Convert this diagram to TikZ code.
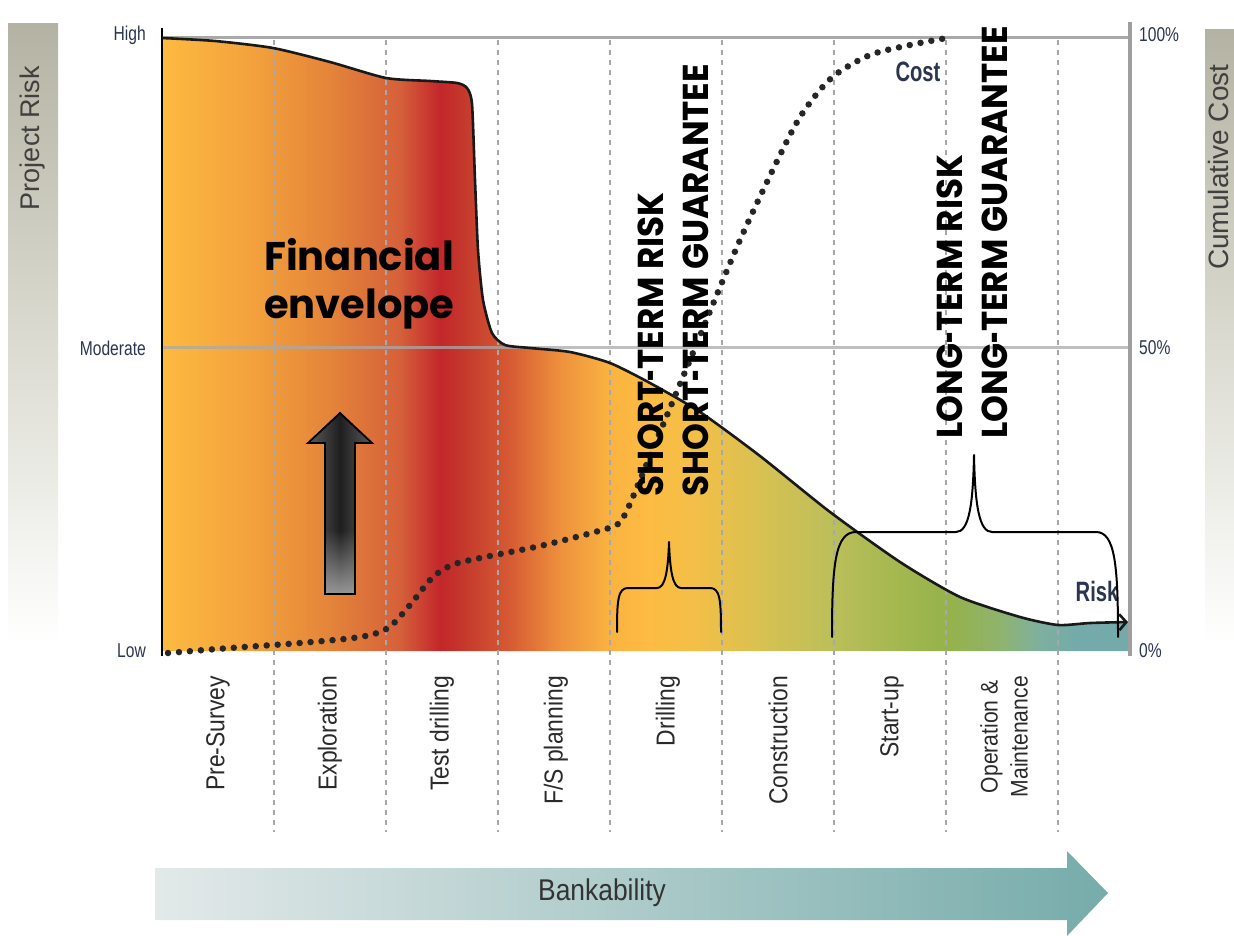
\documentclass[tikz,border=0pt]{standalone}
\usepackage{fontspec}
\usepackage{graphicx}
\setmainfont{Liberation Sans}
\newfontfamily\cnd{Liberation Sans}[FakeStretch=0.88]
\newfontfamily\cndn{Liberation Sans}[FakeStretch=0.78]
\newfontfamily\cndb{Liberation Sans}[FakeStretch=0.72]
\newfontfamily\geo{Poppins}[FakeStretch=0.95]
\newfontfamily\geofin{Poppins}
\newcommand\shyph{\scalebox{0.6}[1]{-}}
\usetikzlibrary{arrows.meta,fadings}
\definecolor{barTop}{HTML}{B4B3A3}
\definecolor{barMid}{HTML}{DADAD0}
\definecolor{gridgray}{HTML}{A9A9A9}
\definecolor{axisgray}{HTML}{9E9E9E}
\definecolor{dashgray}{HTML}{A8A8A8}
\definecolor{navy}{HTML}{2B3550}
\definecolor{txt}{HTML}{2A2A2A}
\definecolor{c0}{HTML}{FDBA40}
\definecolor{c1}{HTML}{F3A23D}
\definecolor{c2}{HTML}{E4843A}
\definecolor{c3}{HTML}{D5603A}
\definecolor{c4}{HTML}{C3262B}
\definecolor{c5}{HTML}{C53A2D}
\definecolor{c6}{HTML}{D65B33}
\definecolor{c7}{HTML}{EE913D}
\definecolor{c8}{HTML}{FAB341}
\definecolor{c9}{HTML}{FDBC43}
\definecolor{c10}{HTML}{F1BF48}
\definecolor{c11}{HTML}{D8C152}
\definecolor{c12}{HTML}{BCBF5A}
\definecolor{c13}{HTML}{A3B74F}
\definecolor{c14}{HTML}{95B24B}
\definecolor{c15}{HTML}{8FB36F}
\definecolor{c16}{HTML}{7EB0A0}
\definecolor{c17}{HTML}{74AAAA}
\definecolor{bankL}{HTML}{E3E9E9}
\definecolor{bankR}{HTML}{76ACAA}
\begin{document}
\begin{tikzpicture}[x=1pt,y=-1pt,
  gridv/.style={dashgray,line width=2pt,dash pattern=on 5pt off 5pt},
  gridh/.style={gridgray,line width=3pt},
  phase/.style={rotate=90,anchor=east,inner sep=0pt,text=txt,font=\cnd\fontsize{26}{28}\selectfont},
  ticklab/.style={inner sep=0pt,text=navy,font=\cndn\fontsize{20}{22}\selectfont},
  curvelab/.style={inner sep=0pt,text=navy,font=\cndb\bfseries\fontsize{28}{30}\selectfont},
  biglab/.style={rotate=90,anchor=base west,inner sep=0pt,text=black,font=\geo\bfseries\fontsize{36}{40}\selectfont},
  finlab/.style={anchor=base west,inner sep=0pt,text=black,font=\geofin\bfseries\fontsize{40}{44}\selectfont},
  sidelab/.style={rotate=90,inner sep=0pt,text=black!75,font=\fontsize{27}{30}\selectfont},
  bracestyle/.style={black,line width=2pt,line cap=round,line join=round},
  costdots/.style={black!85,line width=6.5pt,dash pattern=on 0pt off 11pt,line cap=round}
]
\useasboundingbox (0,0) rectangle (1234,936);

% side bars
\shade[top color=barTop, bottom color=white, middle color=barMid] (8,24) rectangle (58,645);
\shade[top color=barTop, bottom color=white, middle color=barMid] (1205,30) rectangle (1240,645);

% risk area fill
\begin{scope}
\clip plot[smooth,tension=.4] coordinates {(162,38) (215,41) (273,48) (330,62) (386,78) (430,81) (457,83) (467,88) (472,104) (475,180) (478,250) (483,300) (492,333) (505,345) (530,348) (570,352) (610,363) (650,383) (700,412) (760,456) (830,512) (900,562) (960,597) (1020,617) (1058,625) (1090,623) (1126,622)} -- (1130,622) -- (1130,651) -- (162,651) -- cycle;
\foreach \xa/\xb/\ca/\cb in {162/250/c0/c1, 250/330/c1/c2, 330/400/c2/c3, 400/440/c3/c4, 440/465/c4/c5, 465/510/c5/c6, 510/560/c6/c7, 560/610/c7/c8, 610/650/c8/c9, 650/700/c9/c10, 700/760/c10/c11, 760/830/c11/c12, 830/900/c12/c13, 900/950/c13/c14, 950/1000/c14/c15, 1000/1040/c15/c16, 1040/1075/c16/c17, 1075/1132/c17/c17}
  \shade[left color=\ca, right color=\cb] (\xa,30) rectangle (\xb+0.6,655);
\end{scope}

% grid
\foreach \x in {274,386,498,610,722,834,946,1058}
  \draw[gridv] (\x,40) -- (\x,832);
\draw[gridh] (162,38) -- (1130,38);
\draw[gridh,opacity=.75] (162,347) -- (1130,347);
\draw[axisgray,line width=4pt] (1130,22) -- (1130,656);
\draw[black,line width=1.8pt] (162,28) -- (162,656);

% risk outline
\draw[black!90,line width=2.6pt,-{Straight Barb[length=7pt,width=16pt]}] plot[smooth,tension=.4] coordinates {(162,38) (215,41) (273,48) (330,62) (386,78) (430,81) (457,83) (467,88) (472,104) (475,180) (478,250) (483,300) (492,333) (505,345) (530,348) (570,352) (610,363) (650,383) (700,412) (760,456) (830,512) (900,562) (960,597) (1020,617) (1058,625) (1090,623) (1128,622)};

% cost curve
\draw[costdots] plot[smooth,tension=.5] coordinates {(168,653) (230,648) (300,643) (360,637) (388,628) (410,605) (432,578) (452,565) (480,558) (540,546) (595,532) (618,524) (628,508) (640,480) (690,360) (740,240) (790,135) (812,100) (835,75) (870,55) (910,45) (947,38)};

% tick labels
\node[ticklab,anchor=east] (thigh) at (146,35) {High};
\node[ticklab,anchor=east] (tmod) at (146,348) {Moderate};
\node[ticklab,anchor=east] (tlow) at (146,651) {Low};
\node[ticklab,anchor=west] (t100) at (1139,35) {100\%};
\node[ticklab,anchor=west] (t50) at (1139,348) {50\%};
\node[ticklab,anchor=west] (t0) at (1139,651) {0\%};

% side labels
\node[sidelab] (prisk) at (33,138) {Project Risk};
\node[sidelab,anchor=base west,font=\fontsize{28}{31}\selectfont] (ccost) at (1228,270) {Cumulative Cost};

% curve labels
\node[curvelab] (costlab) at (918,72) {Cost};
\node[curvelab] (risklab) at (1097,591) {Risk};

% phase labels
\node[phase] (p1) at (218,676) {Pre-Survey};
\node[phase] (p2) at (330,676) {Exploration};
\node[phase] (p3) at (442,676) {Test drilling};
\node[phase] (p4) at (556,676) {F/S planning};
\node[phase] (p5) at (668,676) {Drilling};
\node[phase] (p6) at (778,676) {Construction};
\node[phase] (p7) at (892,676) {Start-up};
\node[phase,align=center,font=\cnd\fontsize{24}{30}\selectfont] (p8) at (1004,676) {Operation \&\\Maintenance};

% financial envelope
\node[finlab] (fin1) at (264,270) {Financial};
\node[finlab] (fin2) at (264,318) {envelope};

% dark arrow
\begin{scope}
\clip (325,594) -- (325,443) -- (308,443) -- (340,413) -- (372,443) -- (355,443) -- (355,594) -- cycle;
\shade[left color=black!62, right color=black!62, middle color=black!88] (305,405) rectangle (375,600);
\fill[black!38, path fading=north] (300,530) rectangle (380,598);
\end{scope}
\draw[black,line width=1.8pt,line join=miter] (325,594) -- (325,443) -- (308,443) -- (340,413) -- (372,443) -- (355,443) -- (355,594) -- cycle;

% braces
\coordinate (sb1) at (617,632);
\coordinate (sb2) at (669,542);
\coordinate (sb3) at (721,632);
\draw[bracestyle] (sb1) .. controls (617,600) and (618,588) .. (628,588) -- (657,588) .. controls (665,588) and (668,572) .. (sb2) .. controls (670,572) and (673,588) .. (681,588) -- (710,588) .. controls (720,588) and (721,600) .. (sb3);
\coordinate (lb1) at (832,637);
\coordinate (lb2) at (974,455);
\coordinate (lb3) at (1118,637);
\draw[bracestyle] (lb1) .. controls (832,565) and (835,532) .. (856,532) -- (956,532) .. controls (969,532) and (973,505) .. (lb2) .. controls (975,505) and (979,532) .. (992,532) -- (1096,532) .. controls (1115,532) and (1118,565) .. (lb3);

% rotated labels
\node[biglab] (sr) at (663,497) {SHORT\shyph TERM RISK};
\node[biglab] (sg) at (708,497) {SHORT\shyph TERM GUARANTEE};
\node[biglab] (lr) at (962,439) {LONG\shyph TERM RISK};
\node[biglab] (lg) at (1007,439) {LONG\shyph TERM GUARANTEE};

% bankability arrow
\shade[left color=bankL, right color=bankR] (155,868) -- (1067,868) -- (1067,851) -- (1108,893) -- (1067,936) -- (1067,920) -- (155,920) -- cycle;
\node[inner sep=0pt,text=black!80,font=\cnd\fontsize{30}{32}\selectfont] (bank) at (602,893) {Bankability};
\end{tikzpicture}
\end{document}
